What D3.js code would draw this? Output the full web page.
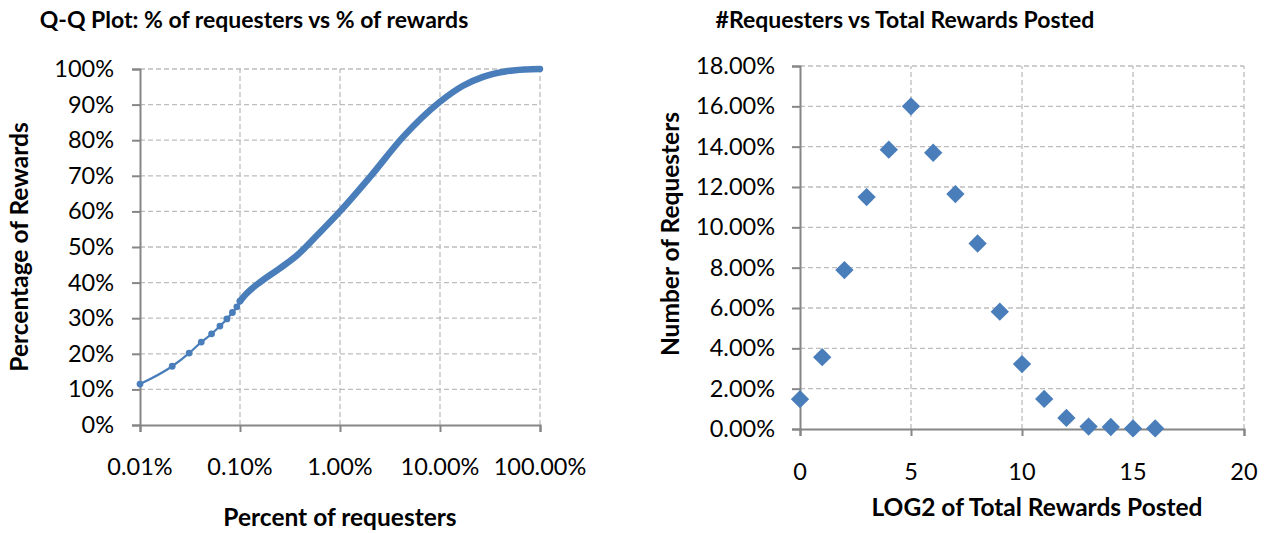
<!DOCTYPE html>
<html>
<head>
<meta charset="utf-8">
<script src="https://cdn.jsdelivr.net/npm/d3@7"></script>
<style>
  body { margin: 0; background: #fff; }
  svg text { font-family: Lato, "Liberation Sans", sans-serif; fill: #000; }
  .grid line { stroke: #bdbdbd; stroke-width: 1.3; stroke-dasharray: 5,3; }
  .axis path, .axis line { stroke: #868686; stroke-width: 2; }
  .tick-label { font-size: 23.5px; }
  .title { font-size: 23px; font-weight: bold; }
  .axis-title { font-size: 24.5px; font-weight: bold; }
</style>
</head>
<body>
<svg id="container" width="1267" height="533"></svg>
<script>
// left chart: Q-Q plot, % of requesters (log) vs % of rewards
const qqTicksX = [0.01, 0.1, 1, 10, 100];
const qqTickLabelsX = ["0.01%", "0.10%", "1.00%", "10.00%", "100.00%"];
const qqTicksY = [0, 10, 20, 30, 40, 50, 60, 70, 80, 90, 100];
// first few requesters, drawn as separate markers
const qqSparseX = [0.01, 0.021, 0.031, 0.041, 0.052, 0.063, 0.074, 0.084, 0.093, 0.1];
const qqSparseY = [11.5, 16.5, 20.2, 23.3, 25.6, 27.8, 29.8, 31.6, 33.2, 34.8];
// rest of the curve, where markers merge into a thick band
const qqDenseX = [0.1, 0.117, 0.16, 0.25, 0.37, 0.6, 1, 2, 4.3, 10, 17, 27, 45, 70, 100];
const qqDenseY = [34.8, 37.0, 40.2, 44, 47.6, 53.5, 60, 69.7, 81, 90.8, 95.3, 97.8, 99.3, 99.85, 100];

// right chart: share of requesters per log2 bucket
const log2Buckets = [0, 1, 2, 3, 4, 5, 6, 7, 8, 9, 10, 11, 12, 13, 14, 15, 16];
const requesterShare = [1.48, 3.56, 7.88, 11.5, 13.85, 16.0, 13.7, 11.65, 9.2, 5.82, 3.22, 1.49, 0.55, 0.12, 0.1, 0.03, 0.03];
const shareTicksX = [0, 5, 10, 15, 20];
const shareTicksY = [0, 2, 4, 6, 8, 10, 12, 14, 16, 18];

const blue = "#4a7ebb";
const svg = d3.select("#container");

function drawQQ() {
  const x = d3.scaleLog().domain([0.01, 100]).range([140, 540]);
  const y = d3.scaleLinear().domain([0, 100]).range([425, 69]);
  const g = svg.append("g");

  g.append("g").attr("class", "grid")
    .selectAll("line.h").data(qqTicksY.slice(1)).enter().append("line")
    .attr("x1", x(0.01)).attr("x2", x(100))
    .attr("y1", d => y(d)).attr("y2", d => y(d));
  g.append("g").attr("class", "grid")
    .selectAll("line.v").data(qqTicksX.slice(1)).enter().append("line")
    .attr("x1", d => x(d)).attr("x2", d => x(d))
    .attr("y1", y(0)).attr("y2", y(100));

  g.append("g").attr("class", "axis")
    .attr("transform", "translate(0," + y(0) + ")")
    .call(d3.axisBottom(x).tickValues(qqTicksX).tickSize(7).tickFormat(""));
  g.append("g").attr("class", "axis")
    .attr("transform", "translate(" + x(0.01) + ",0)")
    .call(d3.axisLeft(y).tickValues(qqTicksY).tickSize(8).tickFormat(""));

  g.selectAll("text.xt").data(qqTicksX).enter().append("text")
    .attr("class", "tick-label")
    .attr("x", d => x(d)).attr("y", 475)
    .attr("text-anchor", "middle")
    .text((d, i) => qqTickLabelsX[i]);
  g.selectAll("text.yt").data(qqTicksY).enter().append("text")
    .attr("class", "tick-label")
    .attr("x", 114).attr("y", d => y(d) + 8)
    .attr("text-anchor", "end")
    .text(d => d + "%");

  const line = d3.line().x(d => x(d[0])).y(d => y(d[1])).curve(d3.curveMonotoneX);
  const sparse = qqSparseX.map((v, i) => [v, qqSparseY[i]]);
  const dense = qqDenseX.map((v, i) => [v, qqDenseY[i]]);

  g.append("path").datum(sparse).attr("d", line)
    .attr("fill", "none").attr("stroke", blue).attr("stroke-width", 2.2);
  g.append("path").datum(dense).attr("d", line)
    .attr("fill", "none").attr("stroke", blue).attr("stroke-width", 6.5)
    .attr("stroke-linecap", "round");
  g.selectAll("circle").data(sparse).enter().append("circle")
    .attr("cx", d => x(d[0])).attr("cy", d => y(d[1])).attr("r", 3.4)
    .attr("fill", blue);

  g.append("text").attr("class", "title")
    .attr("x", 254).attr("y", 28).attr("text-anchor", "middle")
    .text("Q-Q Plot: % of requesters vs % of rewards");
  g.append("text").attr("class", "axis-title")
    .attr("x", 340).attr("y", 526).attr("text-anchor", "middle")
    .text("Percent of requesters");
  g.append("text").attr("class", "axis-title")
    .attr("transform", "translate(28,247) rotate(-90)")
    .attr("text-anchor", "middle")
    .text("Percentage of Rewards");
}

function drawShare() {
  const x = d3.scaleLinear().domain([0, 20]).range([800, 1244]);
  const y = d3.scaleLinear().domain([0, 18]).range([429, 66]);
  const g = svg.append("g");

  g.append("g").attr("class", "grid")
    .selectAll("line.h").data(shareTicksY.slice(1)).enter().append("line")
    .attr("x1", x(0)).attr("x2", x(20))
    .attr("y1", d => y(d)).attr("y2", d => y(d));
  g.append("g").attr("class", "grid")
    .selectAll("line.v").data(shareTicksX.slice(1)).enter().append("line")
    .attr("x1", d => x(d)).attr("x2", d => x(d))
    .attr("y1", y(0)).attr("y2", y(18));

  g.append("g").attr("class", "axis")
    .attr("transform", "translate(0," + y(0) + ")")
    .call(d3.axisBottom(x).tickValues(shareTicksX).tickSize(7).tickFormat(""));
  g.append("g").attr("class", "axis")
    .attr("transform", "translate(" + x(0) + ",0)")
    .call(d3.axisLeft(y).tickValues(shareTicksY).tickSize(8).tickFormat(""));

  g.selectAll("text.xt").data(shareTicksX).enter().append("text")
    .attr("class", "tick-label")
    .attr("x", d => x(d)).attr("y", 480)
    .attr("text-anchor", "middle")
    .text(d => d);
  g.selectAll("text.yt").data(shareTicksY).enter().append("text")
    .attr("class", "tick-label")
    .attr("x", 775).attr("y", d => y(d) + 8)
    .attr("text-anchor", "end")
    .text(d => d.toFixed(2) + "%");

  const diamond = d3.symbol().type(d3.symbolSquare).size(168)();
  g.selectAll("path.pt").data(log2Buckets).enter().append("path")
    .attr("d", diamond)
    .attr("transform", (d, i) => "translate(" + x(d) + "," + y(requesterShare[i]) + ") rotate(45)")
    .attr("fill", blue);

  g.append("text").attr("class", "title")
    .attr("x", 905).attr("y", 28).attr("text-anchor", "middle")
    .text("#Requesters vs Total Rewards Posted");
  g.append("text").attr("class", "axis-title")
    .attr("x", 1037).attr("y", 516).attr("text-anchor", "middle")
    .text("LOG2 of Total Rewards Posted");
  g.append("text").attr("class", "axis-title")
    .attr("transform", "translate(679,234) rotate(-90)")
    .attr("text-anchor", "middle")
    .text("Number of Requesters");
}

drawQQ();
drawShare();
</script>
</body>
</html>
